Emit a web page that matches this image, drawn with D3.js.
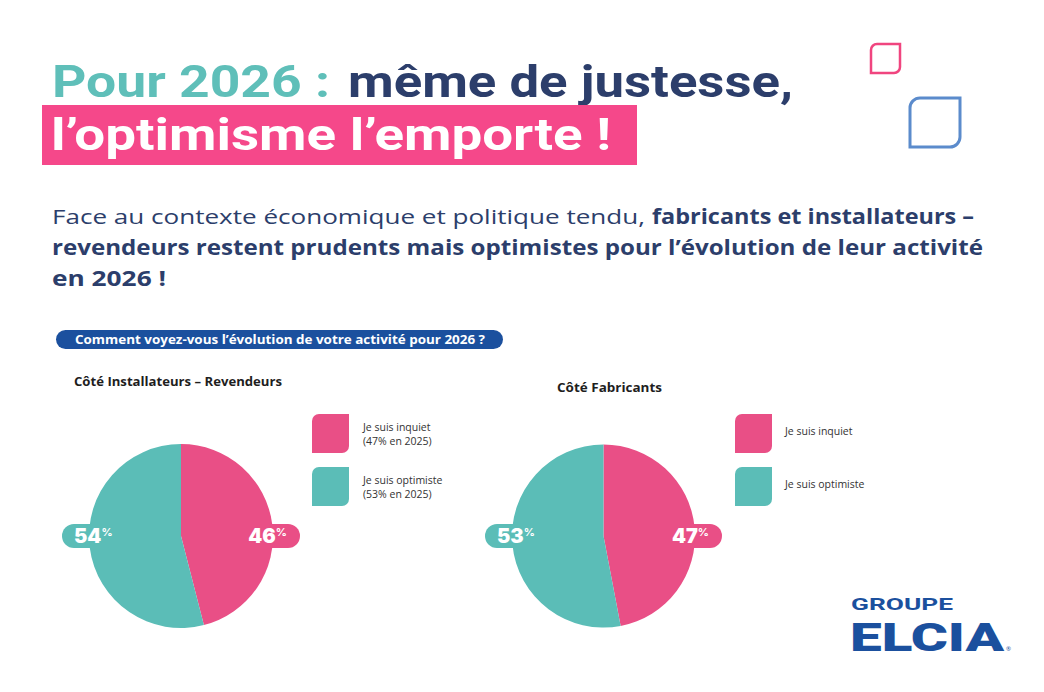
<!DOCTYPE html>
<html><head><meta charset="utf-8">
<script src="https://cdn.jsdelivr.net/npm/d3@7"></script>
<style>body{margin:0;background:#fff}svg{display:block}</style>
</head><body><svg id="chart" width="1044" height="692"></svg>
<script>
// ---- data ----
const categories = ["Je suis inquiet", "Je suis optimiste"];
const installateursValues = [46, 54];
const fabricantsValues = [47, 53];
const installateursNotes = ["(47% en 2025)", "(53% en 2025)"];
const fabricantsNotes = ["", ""];
const panelTitles = ["Côté Installateurs – Revendeurs", "Côté Fabricants"];
const titleParts = ["Pour 2026 :", "même de justesse,", "l’optimisme l’emporte !"];
const introLines = [
  ["Face au contexte économique et politique tendu,", "fabricants et installateurs –"],
  ["revendeurs restent prudents mais optimistes pour l’évolution de leur activité"],
  ["en 2026 !"]
];
const question = "Comment voyez-vous l’évolution de votre activité pour 2026 ?";

// ---- styles ----
const PINK = "#e94f86", TEAL = "#5bbdb7", NAVY = "#2c3e6b", BLUE = "#1b509e";
const sliceColors = d3.scaleOrdinal().domain(categories).range([PINK, TEAL]);
const FONT = "'Open Sans', 'Noto Sans', sans-serif";
const TFONT = "Roboto, 'Open Sans', sans-serif";

const svg = d3.select("#chart");

function leaf(x, y, w, h, r) {
  return `M${x + r},${y} H${x + w} V${y + h - r} A${r},${r} 0 0 1 ${x + w - r},${y + h} H${x} V${y + r} A${r},${r} 0 0 1 ${x + r},${y} Z`;
}
function fitText(sel, len) {
  sel.attr("textLength", len).attr("lengthAdjust", "spacingAndGlyphs");
  return sel;
}

// ---- title ----
fitText(svg.append("text").attr("x", 52).attr("y", 97).attr("font-family", TFONT)
  .attr("font-weight", 700).attr("font-size", 44.5).attr("fill", "#5fbfb9").text(titleParts[0]), 278);
fitText(svg.append("text").attr("x", 348).attr("y", 97).attr("font-family", TFONT)
  .attr("font-weight", 700).attr("font-size", 44.5).attr("fill", NAVY).text(titleParts[1]), 445);
svg.append("rect").attr("x", 42).attr("y", 105).attr("width", 595).attr("height", 60).attr("fill", "#f5488a");
fitText(svg.append("text").attr("x", 51).attr("y", 150).attr("font-family", TFONT)
  .attr("font-weight", 700).attr("font-size", 44.5).attr("fill", "#fff").text(titleParts[2]), 560);

// decorative squares
svg.append("path").attr("d", leaf(871, 44, 29, 29, 6)).attr("fill", "none").attr("stroke", "#f0457f").attr("stroke-width", 2.5);
svg.append("path").attr("d", leaf(910, 98, 50, 49, 10)).attr("fill", "none").attr("stroke", "#5b8bcc").attr("stroke-width", 3);

// ---- intro paragraph ----
const introY = [224, 255, 286];
fitText(svg.append("text").attr("x", 52).attr("y", introY[0]).attr("font-family", FONT)
  .attr("font-size", 20.5).attr("fill", NAVY).text(introLines[0][0]), 593);
fitText(svg.append("text").attr("x", 652).attr("y", introY[0]).attr("font-family", FONT)
  .attr("font-weight", 700).attr("font-size", 20.5).attr("fill", NAVY).text(introLines[0][1]), 322);
fitText(svg.append("text").attr("x", 52).attr("y", introY[1]).attr("font-family", FONT)
  .attr("font-weight", 700).attr("font-size", 20.5).attr("fill", NAVY).text(introLines[1][0]), 931);
fitText(svg.append("text").attr("x", 52).attr("y", introY[2]).attr("font-family", FONT)
  .attr("font-weight", 700).attr("font-size", 20.5).attr("fill", NAVY).text(introLines[2][0]), 114);

// ---- question pill ----
svg.append("rect").attr("x", 56).attr("y", 330).attr("width", 447).attr("height", 19).attr("rx", 9.5).attr("fill", BLUE);
fitText(svg.append("text").attr("x", 75).attr("y", 344).attr("font-family", FONT)
  .attr("font-weight", 700).attr("font-size", 12.5).attr("fill", "#fff").text(question), 410);

// ---- panels ----
const panels = [
  { title: panelTitles[0], titleX: 74, titleY: 386, titleLen: 208, values: installateursValues, notes: installateursNotes,
    cx: 181, cy: 536, r: 92, swX: 312, txtX: 363 },
  { title: panelTitles[1], titleX: 557, titleY: 392, titleLen: 105, values: fabricantsValues, notes: fabricantsNotes,
    cx: 603.5, cy: 536, r: 91.5, swX: 735, txtX: 785 }
];
const swY = [414, 467];

const pie = d3.pie().sort(null).value(d => d.value);

panels.forEach(p => {
  const data = categories.map((c, i) => ({ cat: c, value: p.values[i], note: p.notes[i] }));
  fitText(svg.append("text").attr("x", p.titleX).attr("y", p.titleY).attr("font-family", FONT)
    .attr("font-weight", 700).attr("font-size", 13).attr("fill", "#1e1e1e").text(p.title), p.titleLen);

  const g = svg.append("g").attr("transform", `translate(${p.cx},${p.cy})`);
  const arcs = pie(data);
  const arc = d3.arc().innerRadius(0).outerRadius(p.r);

  // label pills (behind pie)
  arcs.forEach(a => {
    const side = arc.centroid(a)[0] >= 0 ? 1 : -1;
    const x0 = side > 0 ? p.r - 40 : -p.r - 27;
    g.append("rect").attr("x", x0).attr("y", -12).attr("width", 67).attr("height", 24)
      .attr("rx", 12).attr("fill", sliceColors(a.data.cat));
  });
  g.selectAll("path.slice").data(arcs).join("path").attr("class", "slice")
    .attr("d", arc).attr("fill", d => sliceColors(d.data.cat));

  arcs.forEach(a => {
    const side = arc.centroid(a)[0] >= 0 ? 1 : -1;
    const t = g.append("text").attr("y", 7).attr("font-family", "Inter, 'Open Sans', sans-serif")
      .attr("font-weight", 900).attr("font-size", 20).attr("fill", "#fff")
      .attr("x", side > 0 ? p.r + 14 : -p.r - 15)
      .attr("text-anchor", side > 0 ? "end" : "start");
    t.append("tspan").text(a.data.value);
    t.append("tspan").attr("font-size", 11).attr("font-weight", 700).attr("dy", -7).text("%");
  });

  // legend
  data.forEach((d, i) => {
    svg.append("path").attr("d", leaf(p.swX, swY[i], 37, 39, 7)).attr("fill", sliceColors(d.cat));
    if (d.note) {
      svg.append("text").attr("x", p.txtX).attr("y", swY[i] + 17).attr("font-family", FONT)
        .attr("font-size", 10.5).attr("fill", "#333").text(d.cat);
      svg.append("text").attr("x", p.txtX).attr("y", swY[i] + 31).attr("font-family", FONT)
        .attr("font-size", 10.5).attr("fill", "#333").text(d.note);
    } else {
      svg.append("text").attr("x", p.txtX).attr("y", swY[i] + 21).attr("font-family", FONT)
        .attr("font-size", 10.5).attr("fill", "#333").text(d.cat);
    }
  });
});

// ---- logo ----
fitText(svg.append("text").attr("x", 851).attr("y", 610).attr("font-family", TFONT)
  .attr("font-weight", 700).attr("font-size", 17).attr("fill", BLUE).text("GROUPE"), 102);
fitText(svg.append("text").attr("x", 850).attr("y", 651).attr("font-family", TFONT)
  .attr("font-weight", 900).attr("font-size", 38).attr("fill", BLUE).text("ELCIA"), 154);
svg.append("text").attr("x", 1006).attr("y", 651).attr("font-family", FONT)
  .attr("font-size", 6).attr("fill", BLUE).text("®");
</script></body></html>
